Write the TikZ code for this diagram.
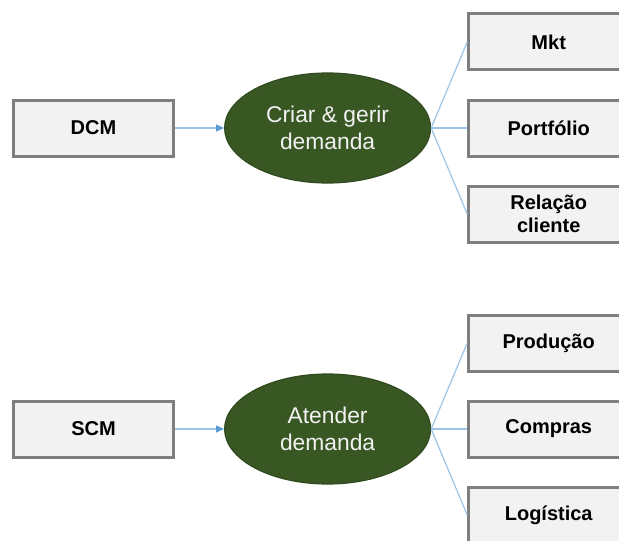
\documentclass[tikz,border=0pt]{standalone}
\usepackage{fontspec}
\setmainfont{Liberation Sans}
\usetikzlibrary{shapes.geometric,arrows.meta,positioning}
\definecolor{boxgray}{RGB}{127,127,127}
\definecolor{boxfill}{RGB}{242,242,242}
\definecolor{leafgreen}{RGB}{56,87,35}
\definecolor{linkblue}{RGB}{157,195,230}
\definecolor{tipblue}{RGB}{91,155,213}

\begin{document}
\begin{tikzpicture}[
    node distance=13.5pt and 18pt,
    chainbox/.style={rectangle, draw=boxgray, line width=1.5pt, fill=boxfill, minimum width=80pt, minimum height=28pt, inner sep=1pt, align=center, font=\bfseries\fontsize{10}{11.7}\selectfont},
    goal/.style={ellipse, draw=leafgreen!85!black, line width=0.6pt, fill=leafgreen, minimum width=103pt, minimum height=55pt, inner sep=0pt, align=center, text=boxfill, font=\fontsize{11.4}{13.5}\selectfont},
    feed/.style={draw=linkblue, line width=0.7pt, -{Triangle[length=4pt,width=3.5pt,color=tipblue]}},
    link/.style={draw=linkblue, line width=0.6pt}
]
\useasboundingbox (0,0) rectangle (309.5pt,-270pt);

% demand side
\node[chainbox] (dcm) at (46.75pt,-64pt) {DCM};
\node[goal, right=24.5pt of dcm] (create) {Criar \& gerir\\demanda};
\node[chainbox, right=18pt of create] (portfolio) {Portfólio};
\node[chainbox, above=of portfolio] (mkt) {Mkt};
\node[chainbox, below=of portfolio] (client) {Relação\\cliente};

\draw[feed] (dcm) -- (create);
\draw[link] (create.east) -- (mkt.west);
\draw[link] (create.east) -- (portfolio.west);
\draw[link] (create.east) -- (client.west);

% supply side
\node[chainbox] (scm) at (46.75pt,-214.5pt) {SCM};
\node[goal, right=24.5pt of scm] (serve) {Atender\\demanda};
\node[chainbox, right=18pt of serve] (purchase) {Compras};
\node[chainbox, above=of purchase] (production) {Produção};
\node[chainbox, below=of purchase] (logistics) {Logística};

\draw[feed] (scm) -- (serve);
\draw[link] (serve.east) -- (production.west);
\draw[link] (serve.east) -- (purchase.west);
\draw[link] (serve.east) -- (logistics.west);

\end{tikzpicture}
\end{document}
